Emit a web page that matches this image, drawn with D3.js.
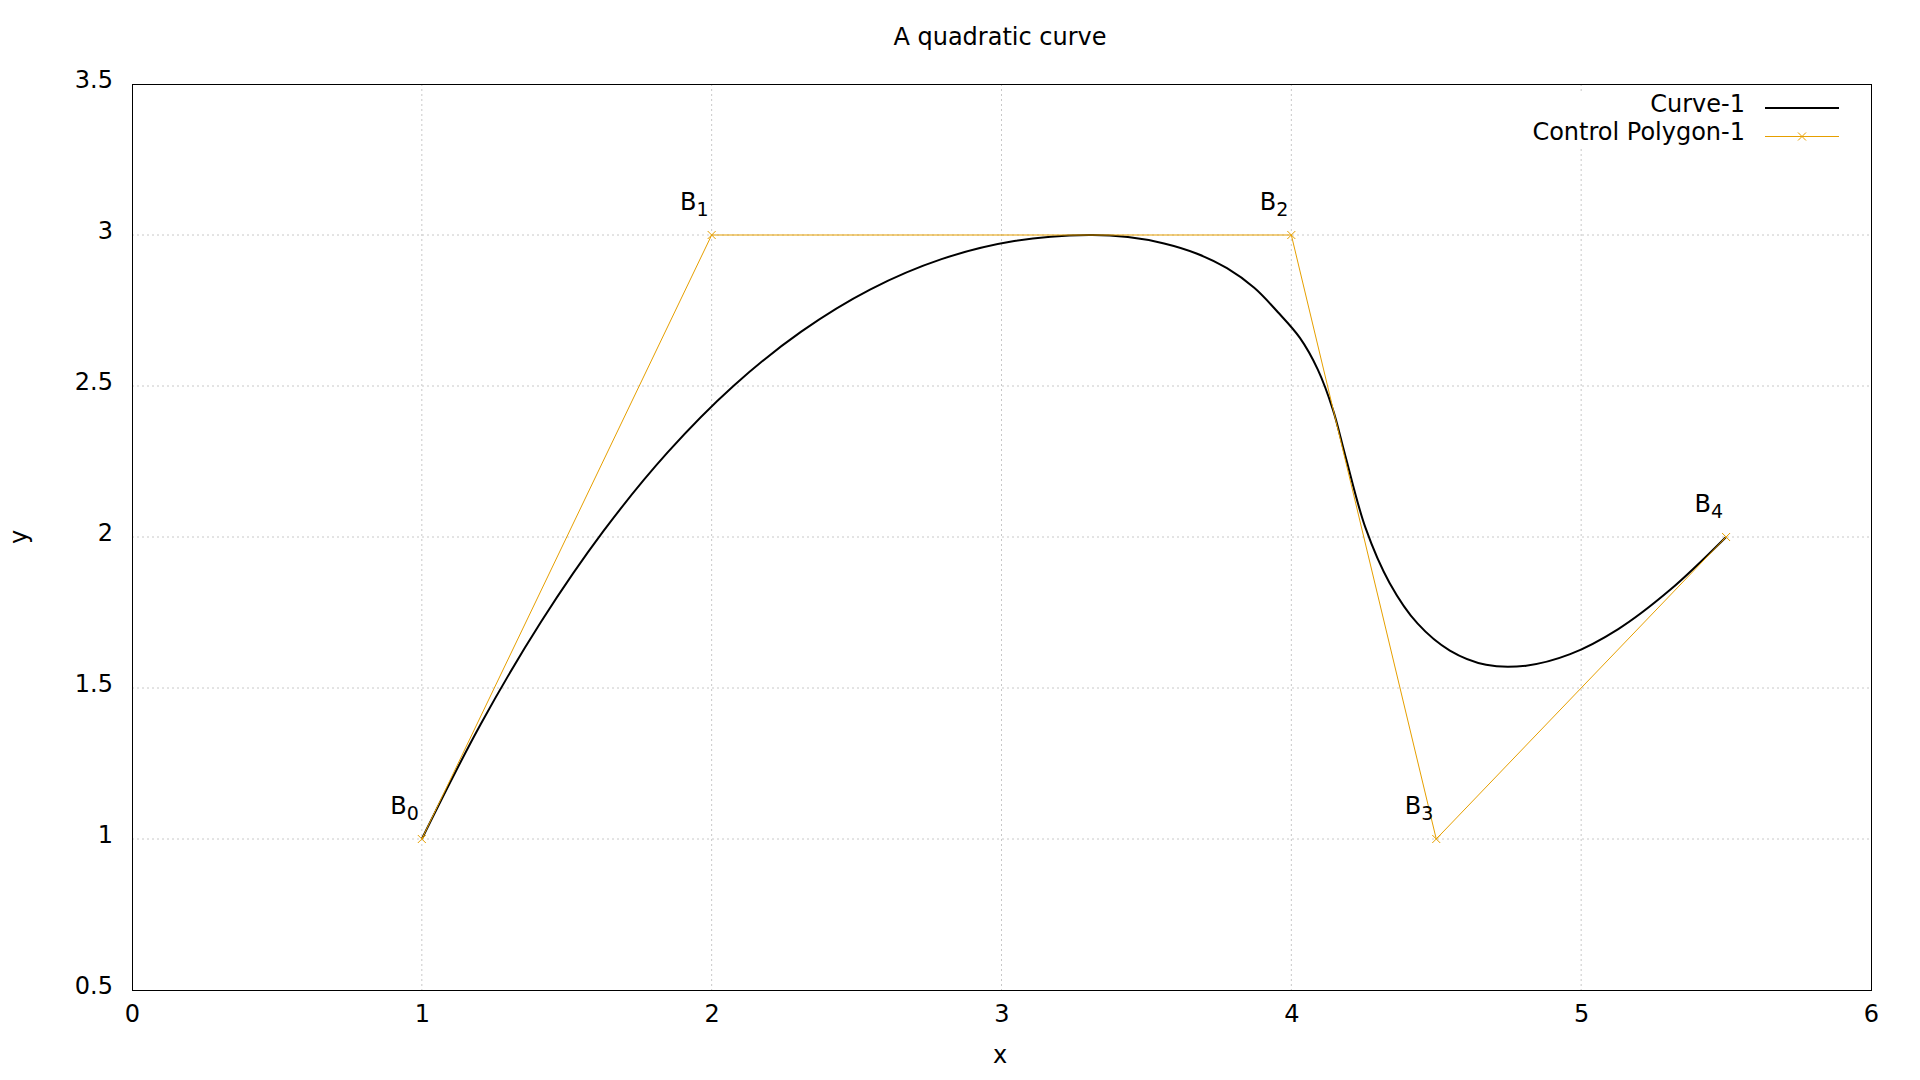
<!DOCTYPE html>
<html>
<head>
<meta charset="utf-8">
<script src="https://cdn.jsdelivr.net/npm/d3@7"></script>
<style>
  html, body { margin: 0; padding: 0; background: #fff; }
  svg { display: block; }
  text { font-family: "DejaVu Sans", sans-serif; fill: #000; }
</style>
</head>
<body>
<svg id="chart" width="1920" height="1080"></svg>
<script>
// ---- data ----
const titleText = "A quadratic curve";
const xLabel = "x";
const yLabel = "y";
const xTicks = [0, 1, 2, 3, 4, 5, 6];
const xTickLabels = ["0", "1", "2", "3", "4", "5", "6"];
const yTicks = [0.5, 1, 1.5, 2, 2.5, 3, 3.5];
const yTickLabels = ["0.5", "1", "1.5", "2", "2.5", "3", "3.5"];
const seriesNames = ["Curve-1", "Control Polygon-1"];
const controlX = [1, 2, 4, 4.5, 5.5];
const controlY = [1, 3, 3, 1, 2];
const controlSub = ["0", "1", "2", "3", "4"];
const curveX = [1, 1.203, 1.412, 1.627, 1.848, 2.075, 2.309, 2.548, 2.793, 3.044, 3.302,
  3.436, 3.561, 3.675, 3.778, 3.872, 3.953, 4.029, 4.091, 4.144, 4.186,
  4.256, 4.339, 4.436, 4.547, 4.672, 4.810, 4.962, 5.128, 5.307, 5.5];
const curveY = [1, 1.38, 1.72, 2.02, 2.28, 2.5, 2.68, 2.82, 2.92, 2.98, 3.0,
  2.993, 2.972, 2.938, 2.890, 2.825, 2.745, 2.660, 2.555, 2.420, 2.270,
  2.030, 1.848, 1.713, 1.624, 1.577, 1.574, 1.612, 1.695, 1.825, 2.0];

// ---- layout ----
const L = 132, R = 1871, T = 84, B = 990;
const orange = "#e69f00";
const svg = d3.select("#chart");
const x = d3.scaleLinear().domain([0, 6]).range([L, R]);
const y = d3.scaleLinear().domain([0.5, 3.5]).range([B, T]);

// grid
const grid = svg.append("g");
grid.selectAll("line.gx").data(xTicks.slice(1, -1)).join("line")
  .attr("x1", d => x(d)).attr("x2", d => x(d)).attr("y1", T).attr("y2", B)
  .attr("stroke", "#c8c8c8").attr("stroke-width", 1).attr("stroke-dasharray", "2,3");
grid.selectAll("line.gy").data(yTicks.slice(1, -1)).join("line")
  .attr("x1", L).attr("x2", R).attr("y1", d => y(d)).attr("y2", d => y(d))
  .attr("stroke", "#c8c8c8").attr("stroke-width", 1).attr("stroke-dasharray", "2,3");

// axes (labels only)
const xAxis = d3.axisBottom(x).tickValues(xTicks).tickFormat((d, i) => xTickLabels[i]).tickSize(0);
const gx = svg.append("g").attr("transform", `translate(0,${B})`).call(xAxis);
gx.select(".domain").remove();
gx.selectAll("text").attr("y", 32).attr("dy", null).attr("font-size", 24)
  .attr("font-family", "DejaVu Sans").attr("fill", "#000");

const yAxis = d3.axisLeft(y).tickValues(yTicks).tickFormat((d, i) => yTickLabels[i]).tickSize(0);
const gy = svg.append("g").attr("transform", `translate(${L},0)`).call(yAxis);
gy.select(".domain").remove();
gy.selectAll("text").attr("x", -19).attr("dy", 3).attr("font-size", 24)
  .attr("font-family", "DejaVu Sans").attr("fill", "#000");

// border
svg.append("rect").attr("x", L + 0.5).attr("y", T + 0.5).attr("width", R - L).attr("height", B - T)
  .attr("fill", "none").attr("stroke", "#000").attr("stroke-width", 1);

// curve
const curvePts = curveX.map((v, i) => [v, curveY[i]]);
const line = d3.line().x(d => x(d[0])).y(d => y(d[1])).curve(d3.curveCatmullRom.alpha(0.5));
svg.append("path").attr("d", line(curvePts)).attr("fill", "none")
  .attr("stroke", "#000").attr("stroke-width", 2).attr("stroke-linejoin", "round");

// control polygon
const ctrlPts = controlX.map((v, i) => [v, controlY[i]]);
const pline = d3.line().x(d => x(d[0])).y(d => y(d[1]));
svg.append("path").attr("d", pline(ctrlPts)).attr("fill", "none")
  .attr("stroke", orange).attr("stroke-width", 1);
const cross = (cx, cy, s) => `M${cx - s},${cy - s}L${cx + s},${cy + s}M${cx - s},${cy + s}L${cx + s},${cy - s}`;
svg.append("g").selectAll("path").data(ctrlPts).join("path")
  .attr("d", d => cross(x(d[0]), y(d[1]), 4)).attr("stroke", orange).attr("stroke-width", 1).attr("fill", "none");

// control point labels
const lbl = svg.append("g").selectAll("text").data(ctrlPts).join("text")
  .attr("x", d => x(d[0]) - 3).attr("y", d => y(d[1]) - 25)
  .attr("text-anchor", "end").attr("font-size", 24);
lbl.append("tspan").text("B");
lbl.append("tspan").attr("font-size", 19).attr("dy", 6).text((d, i) => controlSub[i]);

// title and axis labels
svg.append("text").attr("x", 1000).attr("y", 45).attr("text-anchor", "middle").attr("font-size", 24).text(titleText);
svg.append("text").attr("x", 1000).attr("y", 1063).attr("text-anchor", "middle").attr("font-size", 24).text(xLabel);
svg.append("text").attr("transform", "translate(27,537) rotate(-90)").attr("text-anchor", "middle").attr("font-size", 24).text(yLabel);

// legend
const key = svg.append("g");
key.append("rect").attr("x", 1522).attr("y", 94).attr("width", 330).attr("height", 54).attr("fill", "#fff");
key.append("text").attr("x", 1745).attr("y", 112).attr("text-anchor", "end").attr("font-size", 24).text(seriesNames[0]);
key.append("line").attr("x1", 1765).attr("x2", 1839).attr("y1", 108).attr("y2", 108).attr("stroke", "#000").attr("stroke-width", 2);
key.append("text").attr("x", 1745).attr("y", 140).attr("text-anchor", "end").attr("font-size", 24).text(seriesNames[1]);
key.append("line").attr("x1", 1765).attr("x2", 1839).attr("y1", 136.5).attr("y2", 136.5).attr("stroke", orange).attr("stroke-width", 1);
key.append("path").attr("d", cross(1802, 136.5, 4)).attr("stroke", orange).attr("stroke-width", 1);
</script>
</body>
</html>
